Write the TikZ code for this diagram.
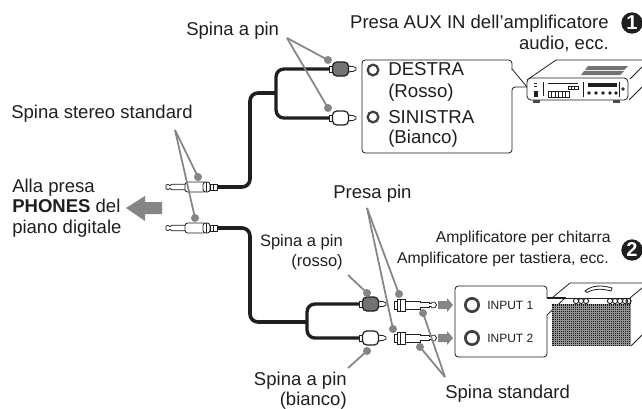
\documentclass[tikz,border=0pt]{standalone}
\usepackage{fontspec}
\setmainfont{Liberation Sans}
\usetikzlibrary{calc}
\definecolor{lead}{gray}{0.52}
\definecolor{ink}{gray}{0.12}
\tikzset{
 x=0.75pt,y=-0.75pt,
 lbl/.style={inner sep=0pt,font=\fontsize{13.9}{16}\selectfont,text=ink},
 lblmid/.style={inner sep=0pt,font=\fontsize{12.4}{14}\selectfont,text=ink},
 lblsm/.style={inner sep=0pt,font=\fontsize{11.8}{14}\selectfont,text=ink},
 lblin/.style={inner sep=0pt,font=\fontsize{9}{11}\selectfont,text=ink},
 cable/.style={draw=ink,line width=2.7pt,rounded corners=6pt},
 thin/.style={draw=ink,line width=0.6pt,fill=white},
 leader/.style={draw=lead,line width=1.3pt},
 dotmark/.style={circle,fill=lead,inner sep=0pt,minimum size=6pt},
 bigarrow/.style={fill=lead,draw=none},
 callout/.style={draw=ink,line width=0.6pt,fill=white,rounded corners=2.5pt},
 num/.style={circle,fill=ink,text=white,inner sep=0pt,minimum size=16pt,font=\fontsize{15}{15}\bfseries\selectfont},
 ring/.style={circle,draw=ink!85,line width=1.7pt,fill=white,minimum size=8pt,inner sep=0pt},
 gridline/.style={draw=black!42,line width=0.2pt},
}
\newcommand{\rcaplug}[3]{% x,y,fill
 \begin{scope}[shift={(#1,#2)}]
  \draw[thin] (-2,-3) rectangle (2,3);
  \draw[thin] (17,-3) -- (19,-3) -- (19,-2.5) -- (22,-2.5) -- (25,-1) -- (25,1) -- (22,2.5) -- (19,2.5) -- (19,3) -- (17,3);
  \draw[thin,line width=0.9pt,fill=#3,rounded corners=3.2pt] (1.5,-7) rectangle (17.5,7);
 \end{scope}}
\newcommand{\jackplug}[2]{%
 \begin{scope}[shift={(#1,#2)}]
  \draw[thin] (0,-2) -- (2,-2.5) -- (4,-1.5) -- (6,-2.7) -- (20,-2.7) -- (20,2.7) -- (6,2.7) -- (4,1.5) -- (2,2.5) -- (0,2) -- cycle;
  \draw[thin,rounded corners=2pt] (19,-5) -- (40,-5) -- (40,5) -- (19,5) -- cycle;
  \draw[thin,rounded corners=2pt] (37,-5) rectangle (44,5);
  \draw[thin] (40.5,-5) -- (40.5,5);
  \draw[thin] (44,-3) rectangle (51,3);
  \draw[thin] (47,-3) -- (47,3);
 \end{scope}}
\newcommand{\adapter}[2]{%
 \begin{scope}[shift={(#1,#2)}]
  \draw[thin] (0,-4) rectangle (6,4);
  \draw[thin] (3,-6) rectangle (11,6);
  \draw[thin] (6,-6) -- (6,6);
  \draw[thin] (11,-4) rectangle (26,4);
  \draw[thin] (26,-2.5) -- (35,-2.5) -- (35,2.5) -- (26,2.5);
  \draw[thin] (35,-1.5) -- (37,-1.5) -- (38,-2.7) -- (41,-2.7) -- (42.5,0) -- (41,2.7) -- (38,2.7) -- (37,1.5) -- (35,1.5);
 \end{scope}}
\begin{document}
\begin{tikzpicture}
\useasboundingbox[fill=white] (0,0) rectangle (642,408);

% coordinates
\coordinate (jackA) at (216,187);
\coordinate (jackB) at (216,228);
\coordinate (rcaAT) at (331,69);
\coordinate (rcaAB) at (331,118);
\coordinate (rcaBT) at (360,304);
\coordinate (rcaBB) at (360,338);
\coordinate (juncA) at (276,93);
\coordinate (juncB) at (307,322);

% cables
\draw[cable] (jackA) -- (250,187) -- (250,93) -- (juncA);
\draw[cable,line width=2.5pt] (rcaAT) -- (276,69) -- (276,118) -- (rcaAB);
\draw[cable] (jackB) -- (250,228) -- (250,322) -- (juncB);
\draw[cable,line width=2.5pt] (rcaBT) -- (307,304) -- (307,338) -- (rcaBB);

% plugs
\jackplug{166}{187}
\jackplug{166}{228}
\rcaplug{331}{69}{black!55}
\rcaplug{331}{118}{white}
\rcaplug{361}{304}{black!55}
\rcaplug{361}{338}{white}
\adapter{394}{305}
\adapter{394}{338}

% big arrow
\path[bigarrow] (162,202) -- (145,202) -- (145,196) -- (126,208) -- (145,221) -- (145,214) -- (162,214) -- cycle;
% small arrows
\foreach \yy in {305,338}{
 \path[bigarrow] (438,\yy-4) -- (447,\yy-4) -- (447,\yy-7) -- (453,\yy) -- (447,\yy+7) -- (447,\yy+4) -- (438,\yy+4) -- cycle;
}

% leaders
\coordinate (lSP) at (287,38);
\node[dotmark] (d1) at (328,60) {};
\node[dotmark] (d2) at (328,108) {};
\draw[leader] (lSP) -- (d1.center);
\draw[leader] (lSP) -- (d2.center);
\coordinate (lSS) at (175,130);
\node[dotmark] (d3) at (198,177) {};
\node[dotmark] (d4) at (195,218) {};
\draw[leader] (lSS) -- (d3.center);
\draw[leader] (lSS) -- (d4.center);
\coordinate (lPP) at (367,208);
\node[dotmark] (d5) at (399,294) {};
\node[dotmark] (d6) at (393,329) {};
\draw[leader] (lPP) -- (d5.center);
\draw[leader] (lPP) -- (d6.center);
\coordinate (lRO) at (348,275);
\node[dotmark] (d7) at (367,293) {};
\draw[leader] (lRO) -- (d7.center);
\coordinate (lBI) at (348,368);
\node[dotmark] (d8) at (367,351) {};
\draw[leader] (lBI) -- (d8.center);
\coordinate (lST) at (445,377);
\node[dotmark] (d9) at (423,313) {};
\node[dotmark] (d10) at (420,347) {};
\draw[leader] (lST) -- (d9.center);
\draw[leader] (lST) -- (d10.center);

% box 1
\draw[callout] (527,87) -- (512,87) -- (512,153) -- (362,153) -- (362,60) -- (512,60) -- (512,70);
\draw[draw=ink,line width=0.6pt] (512,69) -- (527,87);
\node[ring] (r1) at (373,70) {};
\node[ring] (r2) at (373,117) {};
\node[lbl,anchor=base west,font=\fontsize{14}{16}\selectfont] (t1) at (388,75) {DESTRA};
\node[lbl,anchor=base west,font=\fontsize{14}{16}\selectfont] (t2) at (388,97) {(Rosso)};
\node[lbl,anchor=base west,font=\fontsize{14}{16}\selectfont] (t3) at (388,123) {SINISTRA};
\node[lbl,anchor=base west,font=\fontsize{14}{16}\selectfont] (t4) at (388,143) {(Bianco)};

% box 2
\draw[callout] (547,298) -- (547,286) -- (455,286) -- (455,357) -- (547,357) -- (547,315);
\draw[draw=ink,line width=1pt] (547,298) -- (566,298);
\node[ring,minimum size=10pt,line width=2pt] (r3) at (472,305) {};
\node[ring,minimum size=10pt,line width=2pt] (r4) at (472,338) {};
\node[lblin,anchor=base west] (t5) at (487,309) {INPUT 1};
\node[lblin,anchor=base west] (t6) at (487,342) {INPUT 2};

% amp 1
\begin{scope}[line width=0.6pt]
 \draw[ink] (527,80) -- (556,60) -- (642,60);
 \draw[ink] (630,79) -- (642,67);
 \draw[ink] (629,100) -- (642,87);
 \fill[ink!80] (533,99) rectangle (540,102.5);
 \fill[ink!80] (613,99) rectangle (620,102.5);
 \draw[ink,fill=white,rounded corners=3pt] (527,100) -- (527,78) -- (628,78) -- (628,100) -- cycle;
 % vent
 \fill[black!55] (581,75) -- (584,71) -- (624,71) -- (620,75) -- cycle;
 \fill[black!55] (585,70) -- (588,66) -- (628,66) -- (624,70) -- cycle;
 % front panel
 \fill[ink] (533.5,91) rectangle (538,97);
 \draw[ink] (534,83.5) -- (537,83.5) (534,86.5) -- (537,86.5);
 \draw[ink] (543,82) -- (543,96);
 \draw[ink,line width=0.9pt] (548,83.5) -- (578,83.5);
 \draw[ink] (568,86) rectangle (578,89);
 \foreach \i in {571.3,574.6}{\draw[ink] (\i,86) -- (\i,89);}
 \draw[ink] (548,91) rectangle (569,97);
 \foreach \i in {551.5,555,558.5,562,565.5}{\draw[ink] (\i,91) -- (\i,97);}
 \draw[ink] (583,82) -- (583,97);
 \fill[ink] (588,83) rectangle (617,87);
 \foreach \i in {589,596,603,610,616}{\fill[ink] (\i,93) circle (1.8);}
 \draw[ink] (619,82) -- (619,97);
 \draw[ink] (623,89) circle (1.2);
\end{scope}

% amp 2
\begin{scope}[line width=0.6pt]
 \draw[ink] (552,298) -- (570,283) -- (642,283);
 \draw[ink] (630,298) -- (642,288);
 \draw[ink] (552,298) -- (630,298);
 \draw[ink] (630,298) -- (630,304);
 \draw[ink] (631,346) -- (642,335);
 \draw[ink] (565,298) -- (547,315);
 \fill[black!90] (552,304) rectangle (631,346);
 \foreach \i in {554,556,...,630}{\draw[gridline] (\i,304) -- (\i,346);}
 \foreach \j in {306,308,...,345}{\draw[gridline] (552,\j) -- (631,\j);}
 \foreach \i in {576,581,586}{\draw[ink,line width=0.7pt] (\i,301) circle (2.6);}
 \foreach \i in {610,615,620,625,628.5}{\draw[ink,line width=0.7pt] (\i,301) circle (2.6);}
 \draw[ink,line width=0.6pt,fill=white] (585,291) .. controls (592,285) and (602,285) .. (612,288) -- (611,291) .. controls (602,288.5) and (594,288.5) .. (587,292.5) -- cycle;
\end{scope}

% numbers
\node[num] (n1) at (632,23) {1};
\node[num] (n2) at (632,250) {2};

% labels
\node[lbl,anchor=base east] (a1) at (609,28) {Presa AUX IN dell’amplificatore};
\node[lbl,anchor=base east] (a2) at (609,49) {audio, ecc.};
\node[lblsm,anchor=base east] (a3) at (611,242) {Amplificatore per chitarra};
\node[lblsm,anchor=base east] (a4) at (609,263) {Amplificatore per tastiera, ecc.};
\node[lbl,anchor=base west] (a5) at (186,35) {Spina a pin};
\node[lbl,anchor=base west] (a6) at (11,118) {Spina stereo standard};
\node[lbl,anchor=base west] (a7) at (12,192) {Alla presa};
\node[lbl,anchor=base west] (a8) at (12,212) {\textbf{PHONES} del};
\node[lbl,anchor=base west] (a9) at (12,233) {piano digitale};
\node[lbl,anchor=base west] (a10) at (333,198) {Presa pin};
\node[lblmid,anchor=base east] (a11) at (343,246) {Spina a pin};
\node[lblmid,anchor=base east] (a12) at (343,266) {(rosso)};
\node[lbl,anchor=base east] (a13) at (347,385) {Spina a pin};
\node[lbl,anchor=base east] (a14) at (347,405) {(bianco)};
\node[lbl,anchor=base west] (a15) at (445,398) {Spina standard};
\end{tikzpicture}
\end{document}
